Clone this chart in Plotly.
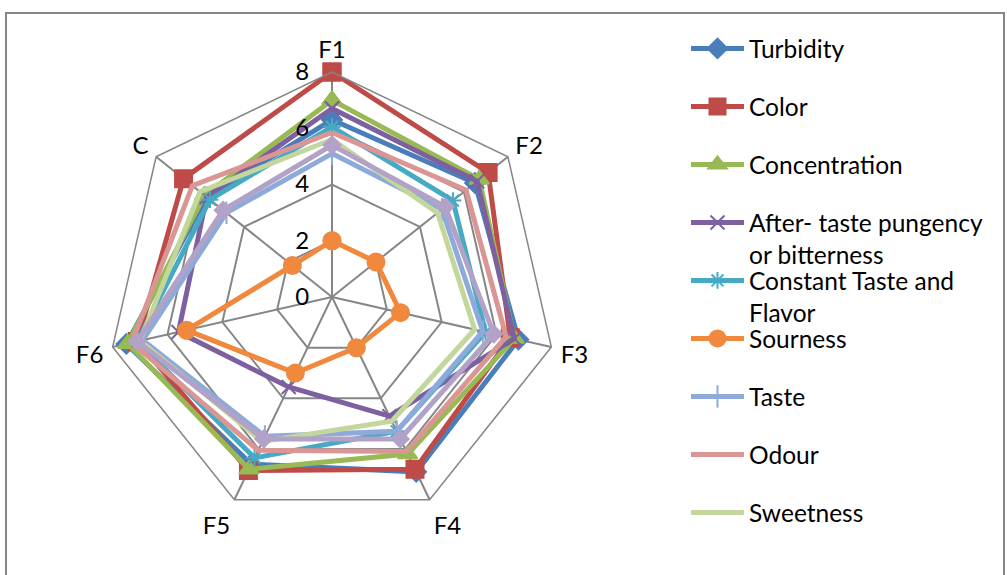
import plotly.graph_objects as go

# Sensory attributes scored for each sample (0-8 scale)
categories = ["F1", "F2", "F3", "F4", "F5", "F6", "C"]

turbidity = [6.3, 6.5, 6.8, 6.9, 6.6, 7.5, 5.7]
color = [8.0, 7.1, 6.5, 6.8, 6.85, 7.1, 6.75]
concentration = [7.0, 6.7, 6.65, 6.2, 6.8, 7.45, 5.8]
after_taste = [6.7, 6.6, 6.65, 4.7, 3.55, 5.6, 5.7]
constant_taste = [6.05, 5.5, 5.6, 5.3, 6.35, 7.1, 5.55]
sourness = [2.0, 2.0, 2.5, 2.0, 3.0, 5.3, 1.8]
taste = [5.1, 5.0, 5.5, 5.3, 5.5, 6.9, 4.8]
odour = [5.85, 6.1, 6.35, 6.1, 6.05, 7.3, 6.35]
sweetness = [5.6, 4.8, 5.2, 4.9, 5.7, 7.0, 6.0]
overall = [5.4, 5.15, 5.9, 5.6, 5.6, 7.1, 4.95]

radial_ticks = [0, 2, 4, 6, 8]

FONT = "Lato"
GRID = "#868686"

series = [
    ("Turbidity", turbidity, "#4A7EBB", "diamond", 15),
    ("Color", color, "#BE4B48", "square", 17),
    ("Concentration", concentration, "#98B954", "triangle-up", 17),
    ("After- taste pungency<br>or bitterness", after_taste, "#7D60A0", "x-thin-open", 14),
    ("Constant Taste and<br>Flavor", constant_taste, "#46AAC5", "asterisk-open", 14),
    ("Sourness", sourness, "#F0883E", "circle", 17),
    ("Taste", taste, "#8EAADB", "line-ns-open", 16),
    ("Odour", odour, "#D99694", None, 0),
    ("Sweetness", sweetness, "#C3D69B", None, 0),
]

# vertical centre (px from top) of the first text line of each legend entry
legend_rows = [47, 105, 163, 221, 279, 337, 395, 453, 511]

fig = go.Figure()

for i, (name, vals, col, sym, size) in enumerate(series):
    lg = "legend" if i == 0 else f"legend{i + 1}"
    r = vals + [vals[0]]
    theta = categories + [categories[0]]
    if sym is None:
        fig.add_trace(go.Scatterpolar(
            r=r, theta=theta, name=name, mode="lines",
            line=dict(color=col, width=5), legend=lg,
        ))
    else:
        fig.add_trace(go.Scatterpolar(
            r=r, theta=theta, name=name, mode="lines+markers",
            line=dict(color=col, width=5),
            marker=dict(symbol=sym, size=size, color=col,
                        line=dict(color=col, width=2)),
            legend=lg,
        ))

# tenth series (drawn on top, no legend entry)
fig.add_trace(go.Scatterpolar(
    r=overall + [overall[0]], theta=categories + [categories[0]],
    name="Overall", mode="lines+markers", showlegend=False,
    line=dict(color="#B3A2C7", width=5),
    marker=dict(symbol="diamond", size=15, color="#B3A2C7"),
))

W, H = 1007, 575
cx, cy, rad = 332, 297, 225

layout_legends = {}
for i, ypx in enumerate(legend_rows):
    key = "legend" if i == 0 else f"legend{i + 1}"
    layout_legends[key] = dict(
        x=686 / W, y=1 - (ypx - 21) / H, xanchor="left", yanchor="top",
        font=dict(family=FONT, size=24.5, color="#000000"),
        bgcolor="rgba(0,0,0,0)", borderwidth=0, valign="top",
        itemwidth=53, tracegroupgap=0,
    )

fig.update_layout(
    width=W, height=H,
    margin=dict(l=0, r=0, t=0, b=0),
    paper_bgcolor="white",
    font=dict(family=FONT, size=24, color="#000000"),
    polar=dict(
        domain=dict(x=[(cx - rad) / W, (cx + rad) / W],
                    y=[1 - (cy + rad) / H, 1 - (cy - rad) / H]),
        gridshape="linear",
        bgcolor="white",
        radialaxis=dict(
            range=[0, 8], tickvals=radial_ticks,
            ticktext=[str(v) for v in radial_ticks],
            angle=90, side="counterclockwise", tickangle=90,
            showline=False, gridcolor=GRID, gridwidth=1.5,
            ticks="outside", ticklen=14, tickcolor="rgba(0,0,0,0)",
            tickfont=dict(family=FONT, size=24, color="#000000"),
        ),
        angularaxis=dict(
            categoryarray=categories, categoryorder="array",
            rotation=90, direction="clockwise",
            showline=True, linecolor=GRID, linewidth=1.5,
            gridcolor=GRID, gridwidth=1.5,
            ticks="outside", ticklen=4, tickcolor="rgba(0,0,0,0)",
            tickfont=dict(family=FONT, size=24, color="#000000"),
        ),
    ),
    **layout_legends,
    shapes=[dict(type="rect", xref="paper", yref="paper",
                 x0=6 / W, x1=1004 / W, y0=-0.05, y1=1 - 13 / H,
                 line=dict(color="#868686", width=2))],
)

fig.write_html("out.html")
